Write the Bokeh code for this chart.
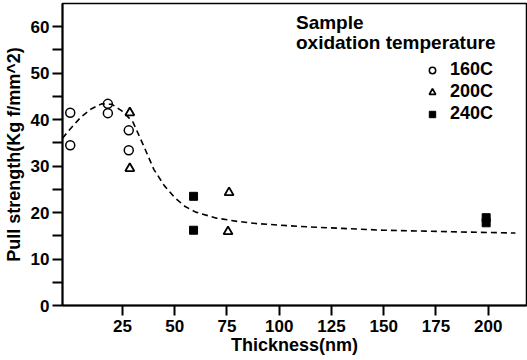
from bokeh.plotting import figure
from bokeh.models import Range1d, Legend, LegendItem, Label, FixedTicker
from bokeh.embed import file_html
from bokeh.resources import INLINE

# Data
x_160 = [0, 0, 18, 18, 28, 28]
y_160 = [41.5, 34.5, 43.4, 41.4, 37.7, 33.4]
x_200 = [28.5, 28.5, 76, 75.5]
y_200 = [41.5, 29.5, 24.3, 15.9]
x_240 = [59, 59, 199, 199]
y_240 = [23.5, 16.2, 18.9, 17.8]

fit_x = [-3.7, 0, 5, 10, 15, 20, 25, 30, 35, 40, 45, 50, 55, 60, 70, 80, 90, 110, 130, 150, 170, 190, 213]
fit_y = [36.0, 38.0, 40.5, 42.3, 43.4, 43.3, 41.8, 39.5, 34.5, 29.3, 25.8, 23.2, 21.3, 20.1, 18.8, 18.1, 17.6, 17.0, 16.6, 16.2, 16.0, 15.8, 15.6]

x_ticks = [25, 50, 75, 100, 125, 150, 175, 200]
y_ticks = [0, 10, 20, 30, 40, 50, 60]
y_minor = [5, 15, 25, 35, 45, 55]

FONT = "Liberation Sans"

p = figure(width=527, height=360, output_backend="svg", toolbar_location=None,
           x_range=Range1d(-3.7, 218.3), y_range=Range1d(0, 65),
           min_border_left=62, min_border_right=1, min_border_top=3, min_border_bottom=55)
p.xgrid.visible = False
p.ygrid.visible = False
p.outline_line_color = "black"
p.outline_line_width = 1.5
p.background_fill_color = "white"
p.border_fill_color = "white"

for ax in (p.xaxis[0], p.yaxis[0]):
    ax.axis_line_width = 2
    ax.axis_line_color = "black"
    ax.major_tick_line_width = 2
    ax.minor_tick_line_width = 2
    ax.major_tick_in = 0
    ax.major_tick_out = 10
    ax.minor_tick_in = 0
    ax.major_label_text_font = FONT
    ax.major_label_text_font_style = "bold"
    ax.major_label_text_font_size = "17px"
    ax.major_label_text_color = "black"
    ax.axis_label_text_font = FONT
    ax.axis_label_text_font_style = "bold"
    ax.axis_label_text_font_size = "18px"
    ax.axis_label_text_color = "black"

p.xaxis.ticker = FixedTicker(ticks=x_ticks)
p.xaxis.minor_tick_out = 0
p.xaxis.major_label_standoff = 4
p.xaxis.axis_label = "Thickness(nm)"
p.xaxis.axis_label_standoff = 0

p.yaxis.ticker = FixedTicker(ticks=y_ticks, minor_ticks=y_minor)
p.yaxis.minor_tick_out = 10
p.yaxis.major_label_standoff = 3
p.yaxis.axis_label = "Pull strength(Kg f/mm^2)"
p.yaxis.axis_label_standoff = 4

p.line(fit_x, fit_y, line_color="black", line_width=1.6, line_dash="6 4")

r1 = p.scatter(x_160, y_160, marker="circle", size=9, fill_color=None, line_color="black", line_width=1.5)
r2 = p.scatter(x_200, y_200, marker="triangle", size=9, fill_color=None, line_color="black", line_width=1.8)
r3 = p.scatter(x_240, y_240, marker="square", size=8, fill_color="black", line_color="black")

legend = Legend(items=[LegendItem(label="160C", renderers=[r1]),
                       LegendItem(label="200C", renderers=[r2]),
                       LegendItem(label="240C", renderers=[r3])],
                location=(362, 181), orientation="vertical",
                background_fill_alpha=0, border_line_color=None,
                label_text_font=FONT, label_text_font_style="bold", label_text_color="black",
                label_text_font_size="18px", label_height=21, glyph_height=16, glyph_width=16,
                label_standoff=10, spacing=1, padding=0, margin=0)
p.add_layout(legend, "center")

for txt, yv in (("Sample", 60.9), ("oxidation temperature", 56.5)):
    p.add_layout(Label(x=108, y=yv, text=txt, text_font=FONT, text_font_style="bold",
                       text_font_size="19px", text_color="black", text_baseline="alphabetic"))

open("out.html", "w").write(file_html(p, INLINE))
